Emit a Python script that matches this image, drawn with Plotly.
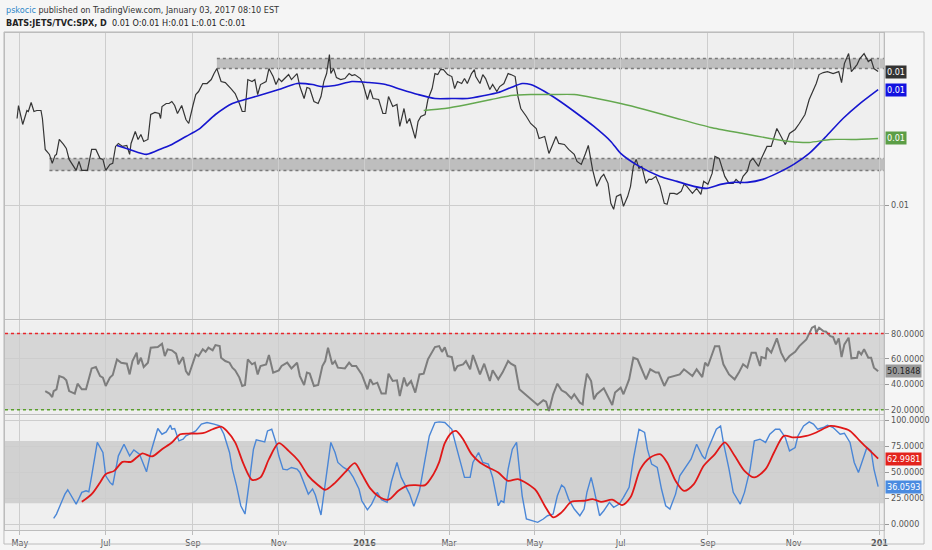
import pandas as pd
import plotly.graph_objects as go

W, H = 932, 550
FONT = "Liberation Sans Narrow, DejaVu Sans Condensed, Arial Narrow, sans-serif"
BASE_DATE = pd.Timestamp("2015-05-01")
X_RANGE = ["2015-04-20 09:36", "2017-01-04 07:00"]

# ---------------- data (day offsets from 2015-05-01) ----------------
price_day = [
    -2, -1, 2, 5, 6, 8, 10, 12, 15, 16,
    18, 21, 23, 25, 26, 28, 31, 33, 35, 38,
    40, 42, 44, 48, 51, 54, 57, 59, 61, 64,
    66, 68, 70, 73, 76, 78, 79, 82, 84, 86,
    88, 91, 93, 96, 99, 100, 101, 104, 106, 108,
    110, 112, 115, 118, 120, 123, 125, 127, 130, 133,
    136, 138, 140, 143, 146, 150, 153, 156, 158, 160,
    162, 165, 167, 169, 171, 175, 177, 180, 182, 184,
    186, 191, 193, 197, 199, 202, 204, 206, 209, 212,
    214, 216, 218, 220, 221, 223, 225, 228, 231, 234,
    236, 238, 242, 244, 247, 249, 251, 255, 258, 260,
    262, 265, 268, 270, 273, 275, 277, 279, 281, 283,
    285, 288, 290, 293, 295, 297, 299, 301, 304, 307,
    309, 311, 314, 316, 318, 321, 323, 324, 327, 329,
    331, 334, 336, 339, 341, 344, 347, 349, 352, 354,
    356, 360, 363, 367, 369, 373, 376, 379, 381, 383,
    387, 390, 394, 396, 399, 402, 404, 407, 410, 413,
    415, 418, 420, 422, 424, 427, 429, 432, 434, 436,
    438, 440, 442, 445, 447, 449, 452, 455, 458, 460,
    462, 465, 467, 470, 472, 474, 478, 481, 484, 486,
    489, 492, 494, 497, 499, 501, 504, 507, 509, 512,
    514, 517, 519, 521, 525, 527, 531, 534, 538, 541,
    544, 547, 551, 554, 558, 561, 564, 566, 568, 571,
    574, 578, 582, 584, 586, 589, 591, 595, 597, 600,
    603, 605, 607, 610,
]
price = [
    0.01237, 0.01250, 0.01231, 0.01245, 0.01244, 0.01253, 0.01244, 0.01245, 0.01245, 0.01237,
    0.01206, 0.01201, 0.01192, 0.01200, 0.01201, 0.01216, 0.01211, 0.01207, 0.01196, 0.01189,
    0.01185, 0.01194, 0.01185, 0.01185, 0.01206, 0.01206, 0.01197, 0.01196, 0.01185, 0.01191,
    0.01192, 0.01209, 0.01212, 0.01209, 0.01210, 0.01201, 0.01212, 0.01224, 0.01216, 0.01221,
    0.01214, 0.01216, 0.01241, 0.01243, 0.01242, 0.01237, 0.01249, 0.01252, 0.01252, 0.01254,
    0.01250, 0.01242, 0.01250, 0.01236, 0.01232, 0.01250, 0.01261, 0.01264, 0.01272, 0.01272,
    0.01276, 0.01282, 0.01287, 0.01274, 0.01273, 0.01267, 0.01262, 0.01252, 0.01244, 0.01244,
    0.01276, 0.01274, 0.01276, 0.01261, 0.01271, 0.01274, 0.01287, 0.01279, 0.01271, 0.01277,
    0.01274, 0.01281, 0.01276, 0.01282, 0.01269, 0.01257, 0.01268, 0.01267, 0.01254, 0.01252,
    0.01259, 0.01274, 0.01282, 0.01301, 0.01282, 0.01287, 0.01278, 0.01276, 0.01277, 0.01282,
    0.01280, 0.01281, 0.01277, 0.01271, 0.01256, 0.01266, 0.01257, 0.01256, 0.01242, 0.01242,
    0.01259, 0.01249, 0.01251, 0.01229, 0.01247, 0.01232, 0.01237, 0.01227, 0.01217, 0.01234,
    0.01239, 0.01241, 0.01256, 0.01267, 0.01282, 0.01281, 0.01286, 0.01286, 0.01281, 0.01279,
    0.01267, 0.01274, 0.01272, 0.01277, 0.01272, 0.01282, 0.01286, 0.01279, 0.01272, 0.01281,
    0.01277, 0.01266, 0.01271, 0.01264, 0.01269, 0.01272, 0.01282, 0.01281, 0.01279, 0.01259,
    0.01247, 0.01239, 0.01232, 0.01227, 0.01217, 0.01219, 0.01202, 0.01212, 0.01219, 0.01212,
    0.01211, 0.01206, 0.01201, 0.01194, 0.01191, 0.01202, 0.01210, 0.01186, 0.01169, 0.01178,
    0.01181, 0.01172, 0.01152, 0.01146, 0.01159, 0.01161, 0.01149, 0.01159, 0.01169, 0.01189,
    0.01196, 0.01187, 0.01189, 0.01172, 0.01176, 0.01176, 0.01179, 0.01169, 0.01152, 0.01151,
    0.01162, 0.01162, 0.01161, 0.01164, 0.01171, 0.01169, 0.01162, 0.01167, 0.01161, 0.01174,
    0.01171, 0.01182, 0.01199, 0.01197, 0.01189, 0.01179, 0.01172, 0.01172, 0.01176, 0.01172,
    0.01179, 0.01184, 0.01194, 0.01197, 0.01189, 0.01197, 0.01209, 0.01209, 0.01227, 0.01219,
    0.01211, 0.01222, 0.01226, 0.01232, 0.01241, 0.01256, 0.01266, 0.01272, 0.01281, 0.01283,
    0.01284, 0.01282, 0.01284, 0.01273, 0.01292, 0.01302, 0.01284, 0.01291, 0.01297, 0.01302,
    0.01294, 0.01296, 0.01287, 0.01284,
]

sma50_day = [
    69, 78, 90, 101, 108, 118, 127, 139, 151, 160,
    170, 184, 197, 208, 214, 224, 236, 248, 260, 271,
    283, 295, 307, 318, 330, 340, 349, 357, 363, 373,
    382, 394, 408, 420, 427, 439, 455, 467, 479, 488,
    498, 507, 517, 528, 538, 550, 561, 573, 585, 597,
    610,
]
sma50 = [
    0.01210, 0.01206, 0.01201, 0.01207, 0.01211, 0.01219, 0.01226, 0.01241, 0.01252, 0.01256,
    0.01260, 0.01266, 0.01272, 0.01271, 0.01269, 0.01270, 0.01274, 0.01273, 0.01271, 0.01266,
    0.01261, 0.01257, 0.01257, 0.01257, 0.01260, 0.01263, 0.01268, 0.01272, 0.01271, 0.01264,
    0.01256, 0.01244, 0.01229, 0.01214, 0.01202, 0.01190, 0.01179, 0.01174, 0.01169, 0.01167,
    0.01171, 0.01173, 0.01173, 0.01176, 0.01182, 0.01191, 0.01202, 0.01219, 0.01237, 0.01252,
    0.01266,
]

sma200_day = [287, 302, 318, 335, 349, 363, 377, 394, 410, 427,
              444, 467, 491, 514, 533, 547, 561, 576, 592, 610]
sma200 = [0.01245, 0.01247, 0.01251, 0.01256, 0.01260, 0.01261, 0.01261, 0.01261, 0.01257, 0.01252,
          0.01246, 0.01237, 0.01228, 0.01222, 0.01217, 0.01214, 0.01213, 0.01216, 0.01216, 0.01217]

rsi_day = [
    18, 21, 23, 24, 26, 28, 31, 33, 35, 39,
    41, 44, 47, 51, 54, 57, 59, 61, 64, 66,
    69, 72, 76, 78, 80, 83, 84, 86, 88, 91,
    93, 98, 101, 103, 105, 108, 111, 113, 116, 118,
    120, 123, 125, 127, 130, 132, 134, 137, 139, 142,
    143, 146, 149, 151, 153, 156, 158, 160, 162, 165,
    167, 169, 171, 175, 177, 180, 184, 186, 190, 193,
    197, 199, 202, 204, 206, 209, 212, 215, 217, 219,
    222, 224, 226, 231, 234, 236, 239, 243, 247, 249,
    251, 254, 257, 260, 262, 265, 268, 270, 273, 275,
    278, 281, 284, 287, 290, 295, 298, 300, 302, 304,
    307, 309, 311, 315, 317, 320, 322, 324, 327, 330,
    334, 336, 340, 343, 347, 349, 352, 355, 359, 363,
    368, 372, 374, 376, 379, 382, 385, 388, 392, 394,
    398, 400, 401, 403, 406, 408, 410, 415, 418, 421,
    423, 427, 429, 433, 436, 439, 441, 445, 448, 452,
    454, 458, 461, 465, 469, 472, 475, 478, 481, 485,
    487, 489, 494, 497, 500, 504, 508, 511, 514, 517,
    520, 523, 526, 527, 530, 531, 534, 538, 541, 544,
    547, 551, 554, 559, 563, 565, 566, 568, 571, 573,
    576, 578, 580, 582, 584, 586, 589, 591, 595, 596,
    598, 600, 603, 605, 607, 610,
]
rsi = [
    34.7, 32.7, 30.0, 34.7, 36.1, 46.5, 45.3, 43.1, 34.7, 32.7,
    40.5, 36.1, 36.1, 52.5, 53.6, 46.5, 45.3, 38.7, 45.3, 47.3,
    59.6, 57.0, 56.2, 47.8, 58.3, 64.9, 55.7, 60.9, 53.6, 57.0,
    68.8, 69.3, 71.9, 62.2, 67.5, 66.7, 64.1, 55.7, 61.4, 50.4,
    47.1, 56.2, 63.5, 62.2, 67.5, 65.6, 68.8, 66.7, 70.8, 70.0,
    60.9, 58.3, 57.0, 53.1, 51.0, 45.3, 38.7, 39.5, 59.6, 55.7,
    57.0, 47.8, 54.4, 55.7, 63.0, 49.2, 51.0, 54.4, 57.0, 52.5,
    57.0, 46.5, 39.5, 49.2, 48.4, 38.7, 39.5, 54.4, 58.3, 68.8,
    55.7, 58.3, 53.1, 52.5, 57.0, 54.4, 54.4, 47.8, 36.1, 43.9,
    40.0, 41.3, 32.7, 32.7, 48.4, 42.6, 43.1, 30.8, 45.3, 38.7,
    42.6, 33.5, 47.8, 48.4, 59.6, 69.3, 70.0, 65.5, 69.0, 62.2,
    61.4, 50.4, 54.4, 55.7, 58.3, 51.8, 63.0, 57.0, 47.8, 56.2,
    42.6, 51.0, 43.9, 49.2, 58.3, 56.2, 54.4, 36.1, 32.2, 28.2,
    23.8, 27.5, 26.4, 19.1, 32.2, 40.5, 35.3, 33.5, 29.0, 32.2,
    25.6, 24.3, 34.7, 48.4, 42.6, 28.2, 32.2, 36.9, 30.8, 23.8,
    33.5, 37.4, 32.2, 43.9, 60.9, 59.6, 54.4, 43.9, 51.8, 49.2,
    49.2, 38.7, 45.3, 46.5, 47.8, 51.8, 49.2, 46.5, 51.8, 45.7,
    57.0, 54.4, 70.0, 70.0, 55.7, 47.8, 43.9, 49.2, 55.7, 53.1,
    64.9, 64.9, 54.4, 61.4, 60.4, 68.8, 64.9, 76.1, 64.9, 58.3,
    62.2, 65.6, 70.0, 75.3, 84.5, 85.7, 80.5, 84.5, 81.8, 81.3,
    77.9, 77.1, 71.4, 76.1, 61.4, 71.4, 76.6, 60.4, 60.9, 66.1,
    63.5, 67.5, 60.9, 60.9, 53.1, 50.1848,
]

stoch_k_day = [
    24, 26, 30, 32, 34, 37, 40, 42, 44, 47,
    49, 51, 55, 59, 61, 64, 66, 70, 74, 78,
    81, 85, 88, 90, 93, 98, 101, 104, 107, 108,
    110, 113, 116, 118, 122, 125, 129, 133, 138, 142,
    145, 149, 151, 154, 157, 160, 163, 166, 168, 171,
    174, 176, 179, 182, 184, 187, 190, 193, 197, 199,
    202, 205, 208, 210, 214, 217, 221, 224, 226, 230,
    234, 237, 241, 243, 247, 250, 254, 257, 261, 264,
    268, 271, 274, 277, 280, 284, 288, 291, 295, 298,
    302, 307, 310, 313, 316, 320, 322, 326, 329, 333,
    336, 340, 342, 344, 347, 350, 353, 355, 357, 360,
    364, 368, 372, 375, 379, 382, 385, 387, 390, 394,
    398, 401, 403, 406, 408, 412, 415, 419, 422, 426,
    429, 433, 436, 440, 444, 446, 449, 453, 456, 459,
    462, 466, 469, 473, 477, 481, 485, 487, 489, 492,
    495, 498, 500, 504, 507, 512, 515, 519, 522, 526,
    530, 533, 537, 540, 544, 547, 551, 553, 557, 561,
    564, 567, 571, 574, 578, 583, 586, 590, 593, 596,
    599, 602, 605, 607, 610,
]
stoch_k = [
    5.5, 9.6, 22.4, 28.8, 33.0, 25.7, 19.2, 24.7, 30.5, 32.0,
    31.1, 46.4, 78.6, 68.9, 46.4, 40.1, 37.5, 65.7, 76.9, 65.7,
    71.4, 67.3, 57.7, 50.3, 68.9, 92.0, 86.5, 88.7, 95.2, 91.3,
    92.0, 80.1, 81.7, 84.9, 87.5, 89.7, 96.2, 97.8, 96.2, 94.5,
    86.5, 68.9, 52.9, 36.8, 17.6, 9.6, 40.1, 72.1, 81.1, 80.1,
    79.1, 89.7, 91.3, 78.6, 65.7, 52.9, 52.2, 54.5, 52.9, 49.7,
    38.5, 28.8, 33.7, 27.9, 8.7, 40.1, 78.6, 68.9, 59.3, 54.5,
    51.2, 44.9, 33.7, 22.4, 13.7, 19.2, 30.5, 23.4, 20.9, 40.7,
    59.3, 44.9, 36.8, 28.8, 17.0, 32.0, 62.5, 84.9, 97.8, 98.4,
    97.8, 91.3, 75.3, 59.3, 44.9, 44.9, 59.3, 68.9, 59.3, 57.7,
    44.9, 17.6, 22.4, 20.9, 52.9, 72.1, 78.6, 52.9, 27.2, 4.8,
    3.2, 1.6, 4.8, 8.0, 9.6, 27.2, 37.5, 35.3, 24.0, 14.4,
    8.0, 14.4, 30.5, 44.9, 33.7, 8.0, 12.8, 20.9, 16.1, 19.2,
    25.7, 35.3, 62.5, 91.3, 88.2, 72.1, 57.7, 54.5, 33.7, 17.6,
    14.4, 28.8, 46.4, 54.5, 62.5, 76.9, 65.7, 62.5, 72.1, 81.7,
    91.3, 94.5, 78.6, 52.9, 30.5, 19.2, 30.5, 52.9, 80.1, 81.7,
    78.6, 86.5, 91.3, 91.3, 83.4, 70.5, 73.7, 84.9, 94.5, 98.4,
    96.2, 91.3, 93.0, 95.2, 93.0, 86.5, 87.5, 78.6, 59.3, 49.7,
    60.9, 73.7, 70.5, 52.9, 36.0593,
]

stoch_d_day = [
    44, 51, 57, 61, 67, 73, 79, 83, 87, 94,
    101, 108, 114, 121, 130, 137, 143, 147, 153, 159,
    165, 171, 177, 184, 191, 198, 205, 211, 217, 223,
    231, 238, 243, 249, 255, 262, 269, 275, 281, 288,
    294, 298, 302, 307, 310, 315, 321, 327, 333, 340,
    347, 354, 361, 367, 373, 379, 385, 392, 401, 407,
    413, 421, 428, 434, 441, 448, 455, 460, 466, 472,
    479, 486, 494, 501, 508, 515, 522, 530, 536, 543,
    550, 559, 566, 576, 583, 590, 597, 603, 610,
]
stoch_d = [
    21.4, 28.8, 40.1, 48.1, 51.2, 59.9, 59.9, 64.1, 68.0, 65.1,
    72.1, 78.6, 86.5, 87.2, 87.5, 91.3, 93.9, 89.7, 78.6, 57.7,
    42.6, 44.9, 62.5, 77.9, 70.5, 60.9, 46.4, 38.5, 33.0, 38.5,
    49.7, 58.7, 48.1, 34.3, 26.6, 23.4, 32.0, 36.8, 37.5, 37.5,
    48.1, 59.6, 77.9, 88.2, 89.7, 81.7, 67.3, 59.3, 54.5, 49.7,
    41.6, 43.3, 38.5, 32.0, 17.6, 6.4, 11.2, 21.4, 22.4, 24.0,
    21.4, 23.4, 18.3, 25.7, 52.9, 64.1, 67.3, 59.3, 41.6, 32.0,
    38.5, 56.1, 67.3, 78.6, 65.7, 51.2, 44.9, 52.9, 68.9, 84.9,
    83.4, 84.9, 88.2, 94.5, 93.0, 89.7, 80.1, 72.1, 62.9981,
]

# horizontal zones
resistance_zone = [0.01287, 0.01297]
resistance_start_day = 140
support_zone = [0.01185, 0.01197]
support_start_day = 21
rsi_levels = [20, 80]
stoch_levels = [20, 80]

month_ticks = ["2015-05-01", "2015-07-01", "2015-09-01", "2015-11-01", "2016-01-01",
               "2016-03-01", "2016-05-01", "2016-07-01", "2016-09-01", "2016-11-01", "2017-01-01"]
month_labels = ["May", "Jul", "Sep", "Nov", "<b>2016</b>", "Mar", "May", "Jul", "Sep", "Nov", "<b>201</b>"]


def dates(days):
    return (BASE_DATE + pd.to_timedelta(days, unit="D")).strftime("%Y-%m-%d").tolist()


def px(x):
    return x / W


def py(y):
    return 1 - y / H


GRID = "#cdcdcd"
LINE = "#bdbdbd"
XDOM = [px(5), px(888)]

fig = go.Figure()
fig.add_trace(go.Scatter(x=dates(price_day), y=price, mode="lines",
                         line=dict(color="#353535", width=1.2), xaxis="x", yaxis="y"))
fig.add_trace(go.Scatter(x=dates(sma50_day), y=sma50, mode="lines",
                         line=dict(color="#1616cf", width=1.6, shape="spline", smoothing=0.6),
                         xaxis="x", yaxis="y"))
fig.add_trace(go.Scatter(x=dates(sma200_day), y=sma200, mode="lines",
                         line=dict(color="#64a84f", width=1.4, shape="spline", smoothing=0.6),
                         xaxis="x", yaxis="y"))
fig.add_trace(go.Scatter(x=dates(rsi_day), y=rsi, mode="lines",
                         line=dict(color="#7d7d7d", width=2), xaxis="x2", yaxis="y2"))
fig.add_trace(go.Scatter(x=dates(stoch_k_day), y=stoch_k, mode="lines",
                         line=dict(color="#4a86d6", width=1.4), xaxis="x3", yaxis="y3"))
fig.add_trace(go.Scatter(x=dates(stoch_d_day), y=stoch_d, mode="lines",
                         line=dict(color="#e01818", width=1.8, shape="spline", smoothing=0.8),
                         xaxis="x3", yaxis="y3"))

shapes = []
for start, zone in ((resistance_start_day, resistance_zone), (support_start_day, support_zone)):
    x0 = dates([start])[0]
    shapes.append(dict(type="rect", xref="x", yref="y", x0=x0, x1=X_RANGE[1],
                       y0=zone[0], y1=zone[1], fillcolor="rgba(150,150,150,0.55)",
                       line=dict(width=0), layer="below"))
    for lvl in zone:
        shapes.append(dict(type="line", xref="x", yref="y", x0=x0, x1=X_RANGE[1], y0=lvl, y1=lvl,
                           line=dict(color="#7a7a7a", width=1.5, dash="dot"), layer="below"))

shapes.append(dict(type="rect", xref="x2 domain", yref="y2", x0=0, x1=1,
                   y0=rsi_levels[0], y1=rsi_levels[1], fillcolor="rgba(150,150,150,0.28)",
                   line=dict(width=0), layer="below"))
shapes.append(dict(type="line", xref="x2 domain", yref="y2", x0=0, x1=1,
                   y0=rsi_levels[1], y1=rsi_levels[1], line=dict(color="#e8262b", width=1.5, dash="dot")))
shapes.append(dict(type="line", xref="x2 domain", yref="y2", x0=0, x1=1,
                   y0=rsi_levels[0], y1=rsi_levels[0], line=dict(color="#5aa02c", width=1.5, dash="dot")))
shapes.append(dict(type="rect", xref="x3 domain", yref="y3", x0=0, x1=1,
                   y0=stoch_levels[0], y1=stoch_levels[1], fillcolor="rgba(150,150,150,0.33)",
                   line=dict(width=0), layer="below"))
# outer frame and axis separator
shapes.append(dict(type="rect", xref="paper", yref="paper", x0=px(4), x1=px(928), y0=py(545), y1=py(32),
                   line=dict(color="#bcbcbc", width=1)))
shapes.append(dict(type="line", xref="paper", yref="paper", x0=px(888), x1=px(888), y0=py(545), y1=py(32),
                   line=dict(color="#bcbcbc", width=1)))

common_x = dict(type="date", range=X_RANGE, tickvals=month_ticks, showgrid=True, gridcolor=GRID,
                gridwidth=1, showline=True, linecolor=LINE, mirror=True, zeroline=False,
                fixedrange=True, domain=XDOM)
tick_font = dict(family=FONT, size=9, color="#555555")
common_y = dict(side="right", showgrid=True, gridcolor=GRID, gridwidth=1, showline=True, linecolor=LINE,
                mirror=True, zeroline=False, ticks="outside", ticklen=4, tickcolor="#999999",
                tickfont=tick_font, fixedrange=True)


def tag(yref, val, text, bg, fg="#ffffff"):
    return dict(xref="paper", x=px(889), xanchor="left", yref=yref, y=val, yanchor="middle",
                text=text, showarrow=False, bgcolor=bg, borderpad=1,
                font=dict(family=FONT, size=9, color=fg))


last = price[-1]
annotations = [
    dict(xref="paper", yref="paper", x=px(4), y=py(10), xanchor="left", yanchor="middle", showarrow=False,
         text="<span style='color:#2d86c8'>pskocic</span> published on TradingView.com, January 03, 2017 08:10 EST",
         font=dict(family=FONT, size=9, color="#333333")),
    dict(xref="paper", yref="paper", x=px(4), y=py(23), xanchor="left", yanchor="middle", showarrow=False,
         text=f"<b>BATS:JETS/TVC:SPX, D</b>  {last:.2f} O:{last:.2f} H:{last:.2f} L:{last:.2f} C:{last:.2f}",
         font=dict(family=FONT, size=9, color="#222222")),
    tag("y", price[-1], f"{price[-1]:.2f}", "#333333"),
    tag("y", sma50[-1], f"{sma50[-1]:.2f}", "#1212e0"),
    tag("y", sma200[-1], f"{sma200[-1]:.2f}", "#5c9e46"),
    tag("y2", rsi[-1], f"{rsi[-1]:.4f}", "#9a9a9a", "#222222"),
    tag("y3", stoch_d[-1], f"{stoch_d[-1]:.4f}", "#e3231c"),
    tag("y3", stoch_k[-1], f"{stoch_k[-1]:.4f}", "#4a8be0"),
]

fig.update_layout(
    width=W, height=H,
    margin=dict(l=0, r=0, t=0, b=0),
    paper_bgcolor="#f5f5f5",
    plot_bgcolor="#efefef",
    showlegend=False,
    hovermode=False,
    xaxis=dict(**common_x, anchor="y", showticklabels=False, ticks=""),
    xaxis2=dict(**common_x, anchor="y2", showticklabels=False, ticks=""),
    xaxis3=dict(**common_x, anchor="y3", ticktext=month_labels, ticks="outside", ticklen=4,
                tickcolor=LINE, tickfont=tick_font),
    yaxis=dict(**common_y, anchor="x", domain=[py(320), py(33)], range=[0.010357, 0.013227],
               tickvals=[0.0115], tickformat=".2f"),
    yaxis2=dict(**common_y, anchor="x2", domain=[py(415), py(321)], range=[16.5, 90.2],
                tickvals=[20, 40, 60, 80], tickformat=".4f"),
    yaxis3=dict(**common_y, anchor="x3", domain=[py(531), py(416)], range=[-5.8, 104.8],
                tickvals=[0, 25, 50, 75, 100], tickformat=".4f"),
    shapes=shapes,
    annotations=annotations,
)

fig.write_html("out.html", config={"displayModeBar": False},
               post_script="document.body.style.margin='0';document.body.style.overflow='hidden';")
